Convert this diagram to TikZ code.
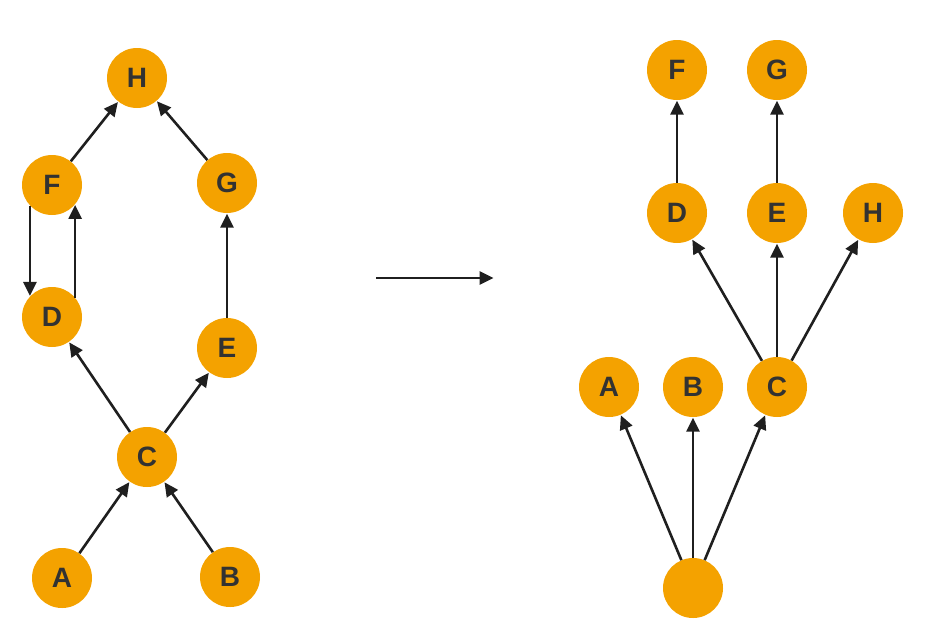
\documentclass[tikz,border=0pt]{standalone}
\usepackage{fontspec}
\setmainfont{Liberation Sans}
\usetikzlibrary{arrows.meta}
\definecolor{nodeorange}{RGB}{244,162,0}
\definecolor{labelgray}{RGB}{50,50,50}
\tikzset{
  vert/.style={circle, fill=nodeorange, draw=none, minimum size=60pt, inner sep=0pt,
    text=labelgray, font=\fontsize{28}{28}\selectfont\bfseries},
  edge/.style={-{Triangle[length=14pt,width=13pt]}, line width=2.6pt, black!88, shorten >=0.5pt}
}
\begin{document}
\begin{tikzpicture}[x=1pt,y=-1pt]
\useasboundingbox (0,0) rectangle (925,627);
% left graph
\node[vert] (lH) at (137,78) {H};
\node[vert] (lF) at (52,185) {F};
\node[vert] (lG) at (227,183) {G};
\node[vert] (lD) at (52,317) {D};
\node[vert] (lE) at (227,348) {E};
\node[vert] (lC) at (147,457) {C};
\node[vert] (lA) at (62,578) {A};
\node[vert] (lB) at (230,577) {B};
\draw[edge] (lA) -- (lC);
\draw[edge] (lB) -- (lC);
\draw[edge] (lC) -- (lD);
\draw[edge] (lC) -- (lE);
\draw[edge] (lE) -- (lG);
\draw[edge] (lG) -- (lH);
\draw[edge] (lF) -- (lH);
\draw[edge] (lF.223) -- (lD.137);
\draw[edge] (lD.40) -- (lF.320);
% middle arrow
\coordinate (m1) at (376,278);
\coordinate (m2) at (494,278);
\draw[edge] (m1) -- (m2);
% right graph
\node[vert] (rF) at (677,70) {F};
\node[vert] (rG) at (777,70) {G};
\node[vert] (rD) at (677,213) {D};
\node[vert] (rE) at (777,213) {E};
\node[vert] (rH) at (873,213) {H};
\node[vert] (rA) at (609,387) {A};
\node[vert] (rB) at (693,387) {B};
\node[vert] (rC) at (777,387) {C};
\node[vert] (rR) at (693,588) {};
\draw[edge] (rR) -- (rA);
\draw[edge] (rR) -- (rB);
\draw[edge] (rR) -- (rC);
\draw[edge] (rC) -- (rD);
\draw[edge] (rC) -- (rE);
\draw[edge] (rC) -- (rH);
\draw[edge] (rD) -- (rF);
\draw[edge] (rE) -- (rG);
\end{tikzpicture}
\end{document}
